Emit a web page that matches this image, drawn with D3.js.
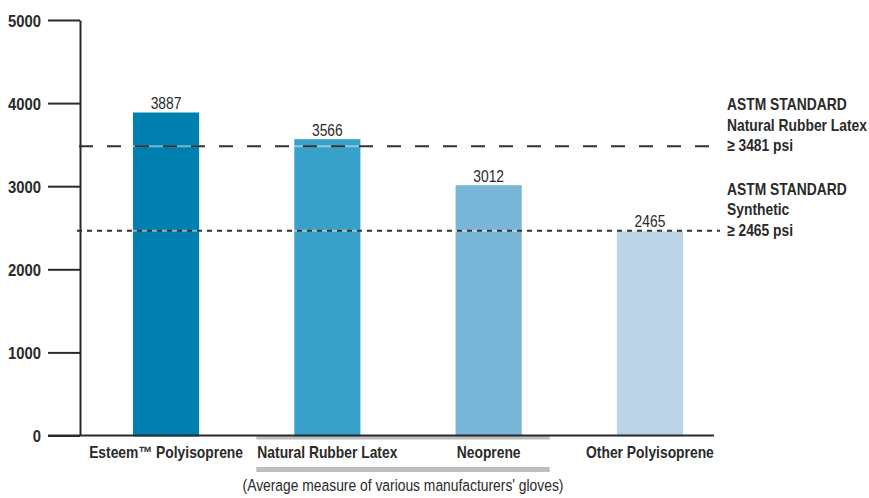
<!DOCTYPE html>
<html>
<head>
<meta charset="utf-8">
<script src="https://cdn.jsdelivr.net/npm/d3@7"></script>
<style>
  html, body { margin: 0; padding: 0; background: #fff; }
  svg { display: block; }
  text { font-family: 'Liberation Sans', Arial, sans-serif; fill: #2a2a2a; }
</style>
</head>
<body>
<svg id="chart" width="869" height="498"></svg>
<script>
// ---- data ----
const categories = ["Esteem\u2122 Polyisoprene", "Natural Rubber Latex", "Neoprene", "Other Polyisoprene"];
const values = [3887, 3566, 3012, 2465];
const yTicks = [0, 1000, 2000, 3000, 4000, 5000];
const standardValues = [3481, 2465];
const standardLabels = [
  ["ASTM STANDARD", "Natural Rubber Latex", "\u2265 3481 psi"],
  ["ASTM STANDARD", "Synthetic", "\u2265 2465 psi"]
];
const groupedCategories = ["Natural Rubber Latex", "Neoprene"];
const caption = "(Average measure of various manufacturers' gloves)";

// ---- styles ----
const barColors = ["#0080b0", "#38a1c9", "#7ab6d8", "#bcd5e6"];
const ink = "#2a2a2a";
const NARROW = 0.84;

const svg = d3.select("#chart");
const place = (sel, tx, ty, k = NARROW) =>
  sel.attr("x", 0).attr("y", 0).attr("transform", (d, i) => {
    const X = typeof tx === "function" ? tx(d, i) : tx;
    const Y = typeof ty === "function" ? ty(d, i) : ty;
    return `translate(${X},${Y}) scale(${k},1)`;
  });

const y = d3.scaleLinear().domain([0, 5000]).range([435.5, 20]);
const x = d3.scaleBand().domain(categories).range([133, 683]).paddingInner(0.59).paddingOuter(0);

// gray group brackets
const gx0 = x(groupedCategories[0]) - 38;
const gx1 = x(groupedCategories[1]) + x.bandwidth() + 28;
svg.append("rect").attr("x", gx0).attr("y", 436).attr("width", gx1 - gx0).attr("height", 3.5).attr("fill", "#bdbdbd");
svg.append("rect").attr("x", gx0).attr("y", 467).attr("width", gx1 - gx0).attr("height", 5).attr("fill", "#bdbdbd");

// bars
svg.append("g").selectAll("rect").data(categories).join("rect")
  .attr("x", d => x(d))
  .attr("y", (d, i) => y(values[i]))
  .attr("width", x.bandwidth())
  .attr("height", (d, i) => y(0) - y(values[i]) + 1)
  .attr("fill", (d, i) => barColors[i]);

// value labels
svg.append("g").selectAll("text").data(categories).join("text")
  .call(place, d => x(d) + x.bandwidth() / 2, (d, i) => y(values[i]) - 3.5)
  .attr("text-anchor", "middle")
  .style("font-size", "16.5px")
  .text((d, i) => values[i]);

// standard lines
const lineExt = [[79, 710, "14,14"], [77, 720, "5,5"]];
standardValues.forEach((v, i) => {
  const [a, b, dash] = lineExt[i];
  svg.append("line").attr("x1", a).attr("x2", b).attr("y1", y(v)).attr("y2", y(v))
    .attr("stroke", "#ffffff").attr("stroke-opacity", 0.45).attr("stroke-width", 2);
  svg.append("line").attr("x1", a).attr("x2", b).attr("y1", y(v)).attr("y2", y(v))
    .attr("stroke", "#333").attr("stroke-width", 2).attr("stroke-dasharray", dash);
  const lines = standardLabels[i];
  const g = svg.append("text").call(place, 727, 0).style("font-size", "16.5px").style("font-weight", "bold");
  lines.forEach((t, j) => {
    g.append("tspan").attr("x", 0).attr("y", y(v) + 5 - (lines.length - 1 - j) * 20.5).text(t);
  });
});

// y axis
const yAxis = d3.axisLeft(y).tickValues(yTicks).tickSize(32).tickSizeOuter(0).tickPadding(7).tickFormat(d3.format("d"));
const ag = svg.append("g").attr("transform", "translate(80,0)").call(yAxis);
ag.select(".domain").attr("stroke", ink).attr("stroke-width", 2);
ag.selectAll(".tick line").attr("stroke", ink).attr("stroke-width", 2);
ag.selectAll(".tick text")
  .attr("x", 0).attr("dy", null).attr("y", 0)
  .attr("transform", "translate(-39,6) scale(0.9,1)")
  .attr("fill", ink).style("font-size", "16.5px").style("font-weight", "bold")
  .style("font-family", "'Liberation Sans', Arial, sans-serif");

// baseline
svg.append("line").attr("x1", 48).attr("x2", 714).attr("y1", y(0)).attr("y2", y(0))
  .attr("stroke", ink).attr("stroke-width", 2);

// category labels
svg.append("g").selectAll("text").data(categories).join("text")
  .call(place, d => x(d) + x.bandwidth() / 2, 458)
  .attr("text-anchor", "middle")
  .style("font-size", "16.5px").style("font-weight", "bold")
  .text(d => d);

// caption
svg.append("text").call(place, (gx0 + gx1) / 2, 491).attr("text-anchor", "middle")
  .style("font-size", "16.5px").text(caption);
</script>
</body>
</html>
